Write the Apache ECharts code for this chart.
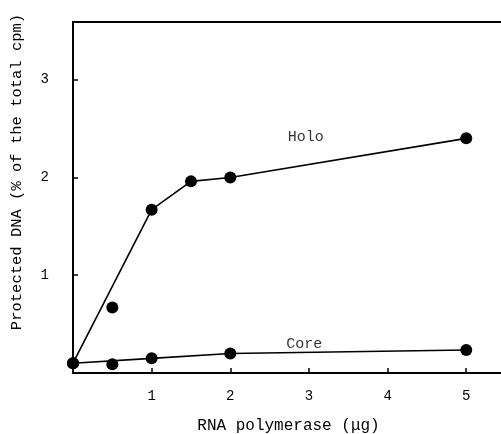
<!DOCTYPE html>
<html>
<head>
<meta charset="utf-8">
<script src="https://cdn.jsdelivr.net/npm/echarts@6/dist/echarts.min.js"></script>
<style>html,body{margin:0;padding:0;background:#fff;}#c{width:501px;height:434px;}</style>
</head>
<body>
<div id="c"></div>
<script>
// Data
var holoDose = [0, 0.5, 1, 1.5, 2, 5];
var holoProtected = [0.10, 0.67, 1.67, 1.96, 2.00, 2.40];
var coreDose = [0, 0.5, 1, 2, 5];
var coreProtected = [0.10, 0.09, 0.15, 0.20, 0.235];
// doses joined by the drawn line (the 0.5 µg points lie off the line)
var lineDoses = [0, 1, 1.5, 2, 5];
var xTickLabels = [1, 2, 3, 4, 5];
var yTickLabels = [1, 2, 3];
var seriesNames = ['Holo', 'Core'];
var labelAnchors = [[2.96, 2.41], [2.94, 0.30]];

function pairs(xs, ys) { return xs.map(function (x, i) { return [x, ys[i]]; }); }
function linePairs(xs, ys) { return pairs(xs, ys).filter(function (p) { return lineDoses.indexOf(p[0]) >= 0; }); }

var font = 'Liberation Mono';
var ink = '#000';
var axisCommon = {
  splitLine: { show: false },
  axisLine: { lineStyle: { color: ink, width: 2 } },
  axisTick: { inside: true, length: 5, lineStyle: { color: ink, width: 1.5 } }
};
var chart = echarts.init(document.getElementById('c'), null, { renderer: 'canvas' });
chart.setOption({
  backgroundColor: '#fff',
  animation: false,
  grid: { left: 73, top: 22, bottom: 61, right: -3, containLabel: false, outerBoundsMode: 'none' },
  xAxis: [Object.assign({
    type: 'value', min: 0, max: 5.48, interval: 1, position: 'bottom',
    axisLabel: {
      margin: 16, color: ink, fontFamily: font, fontSize: 14,
      formatter: function (v) { return xTickLabels.indexOf(v) >= 0 ? String(v) : ''; }
    },
    name: 'RNA polymerase (\u03bcg)', nameLocation: 'middle', nameGap: 45,
    nameTextStyle: { color: ink, fontFamily: font, fontSize: 16 }
  }, axisCommon), {
    type: 'value', min: 0, max: 5.48, position: 'top',
    splitLine: { show: false }, axisTick: { show: false }, axisLabel: { show: false },
    axisLine: { lineStyle: { color: ink, width: 2 } }
  }],
  yAxis: Object.assign({
    type: 'value', min: 0, max: 3.59, interval: 1,
    axisLabel: {
      margin: 24, color: ink, fontFamily: font, fontSize: 14,
      formatter: function (v) { return yTickLabels.indexOf(v) >= 0 ? String(v) : ''; }
    }
  }, axisCommon),
  graphic: [{
    type: 'text', x: 17, y: 172, rotation: Math.PI / 2,
    style: { text: 'Protected DNA (% of the total cpm)', fill: ink, font: '15.5px "Liberation Mono"', textAlign: 'center', textVerticalAlign: 'middle' }
  }],
  series: [
    { type: 'line', data: linePairs(holoDose, holoProtected), symbol: 'none', lineStyle: { color: ink, width: 1.6 }, z: 2 },
    { type: 'line', data: linePairs(coreDose, coreProtected), symbol: 'none', lineStyle: { color: ink, width: 1.6 }, z: 2 },
    { type: 'scatter', data: pairs(holoDose, holoProtected), symbolSize: 12, itemStyle: { color: ink, opacity: 1 }, z: 3 },
    { type: 'scatter', data: pairs(coreDose, coreProtected), symbolSize: 12, itemStyle: { color: ink, opacity: 1 }, z: 3 },
    { type: 'scatter', data: labelAnchors.map(function (c, i) { return { value: c, name: seriesNames[i] }; }),
      symbolSize: 1, itemStyle: { color: 'rgba(0,0,0,0)' }, silent: true, z: 4,
      label: { show: true, position: 'inside', formatter: '{b}', color: ink, fontFamily: font, fontSize: 15 } }
  ]
});
</script>
</body>
</html>
